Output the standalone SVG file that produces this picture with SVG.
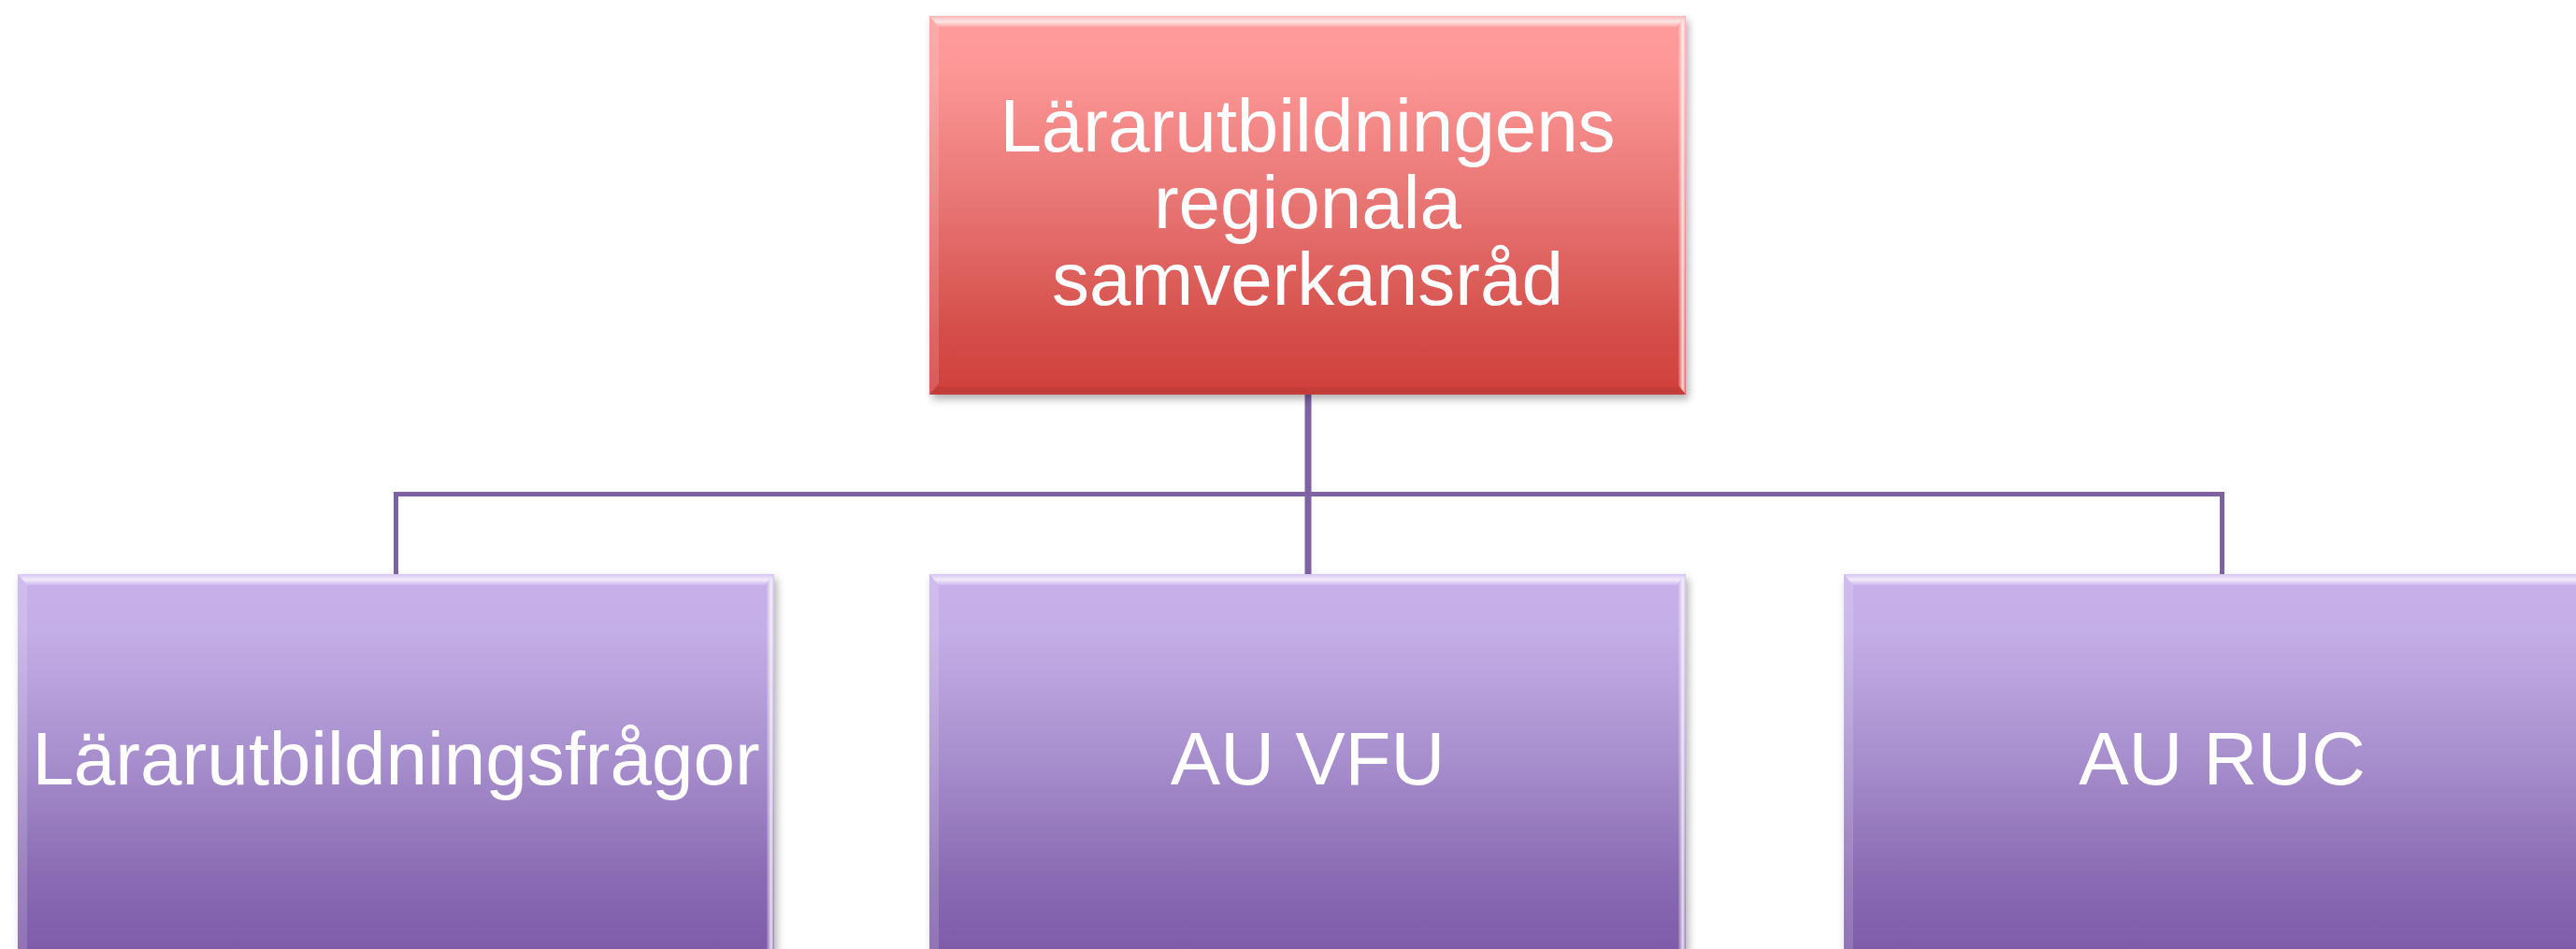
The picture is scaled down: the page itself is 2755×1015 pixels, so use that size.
<svg xmlns="http://www.w3.org/2000/svg" width="2755" height="1015" viewBox="0 0 2755 1015">
<defs>
<linearGradient id="gRed" x1="0" y1="0" x2="0" y2="1">
<stop offset="0" stop-color="#FF9C9C"/>
<stop offset="0.15" stop-color="#FC9796"/>
<stop offset="0.5" stop-color="#E77472"/>
<stop offset="0.85" stop-color="#D44C47"/>
<stop offset="1" stop-color="#D0403C"/>
</linearGradient>
<linearGradient id="gPur" x1="0" y1="0" x2="0" y2="1">
<stop offset="0" stop-color="#C8B1EB"/>
<stop offset="0.15" stop-color="#C4AEE7"/>
<stop offset="0.5" stop-color="#A68DCC"/>
<stop offset="0.8" stop-color="#8A6BB3"/>
<stop offset="1" stop-color="#7E5BA9"/>
</linearGradient>
<linearGradient id="gTop" x1="0" y1="0" x2="0" y2="1">
<stop offset="0" stop-color="#fff" stop-opacity="0.25"/>
<stop offset="0.5" stop-color="#fff" stop-opacity="0.75"/>
<stop offset="1" stop-color="#fff" stop-opacity="0.1"/>
</linearGradient>
<linearGradient id="gRight" x1="0" y1="0" x2="1" y2="0">
<stop offset="0" stop-color="#fff" stop-opacity="0.1"/>
<stop offset="0.6" stop-color="#fff" stop-opacity="0.8"/>
<stop offset="1" stop-color="#fff" stop-opacity="0.2"/>
</linearGradient>
<filter id="sh" x="-5%" y="-5%" width="110%" height="115%">
<feDropShadow dx="3" dy="5" stdDeviation="4" flood-color="#000" flood-opacity="0.3"/>
</filter>
</defs>
<style>
.lbl{font-family:"Liberation Sans",Arial,sans-serif;font-size:80px;fill:#fff;text-anchor:middle}
.con{stroke:#7F62A2;fill:none;stroke-linecap:butt}
.bt{fill:url(#gTop)}
.bl{fill:#fff;fill-opacity:0.15}
.br{fill:url(#gRight)}
.bb{fill:#000;fill-opacity:0.06}
</style>

<g id="connectors">
<line class="con" x1="1399" y1="422" x2="1399" y2="615" stroke-width="7"/>
<polyline class="con" points="423.5,615 423.5,528.5 2376.5,528.5 2376.5,615" stroke-width="5"/>
</g>

<g id="node-top">
<rect x="994" y="17" width="809" height="405" fill="url(#gRed)" filter="url(#sh)"/>
<polygon class="bt" points="994,17 1803,17 1793,29 1004,29"/>
<polygon class="bl" points="994,17 1004,29 1004,410 994,422"/>
<polygon class="br" points="1803,17 1803,422 1795,412 1795,27"/>
<polygon class="bb" points="994,422 1803,422 1795,414 1002,414"/>
<text class="lbl" x="1398.5" y="162">Lärarutbildningens</text>
<text class="lbl" x="1398.5" y="244">regionala</text>
<text class="lbl" x="1398.5" y="326">samverkansråd</text>
</g>

<g id="node-left">
<rect x="19" y="614" width="809" height="405" fill="url(#gPur)" filter="url(#sh)"/>
<polygon class="bt" points="19,614 828,614 818,626 29,626"/>
<polygon class="bl" points="19,614 29,626 29,1019 19,1019"/>
<polygon class="br" points="828,614 828,1019 820,1019 820,624"/>
<text class="lbl" x="423.5" y="839">Lärarutbildningsfrågor</text>
</g>

<g id="node-mid">
<rect x="994" y="614" width="809" height="405" fill="url(#gPur)" filter="url(#sh)"/>
<polygon class="bt" points="994,614 1803,614 1793,626 1004,626"/>
<polygon class="bl" points="994,614 1004,626 1004,1019 994,1019"/>
<polygon class="br" points="1803,614 1803,1019 1795,1019 1795,624"/>
<text class="lbl" x="1398.5" y="839">AU VFU</text>
</g>

<g id="node-right">
<rect x="1972" y="614" width="809" height="405" fill="url(#gPur)" filter="url(#sh)"/>
<polygon class="bt" points="1972,614 2781,614 2771,626 1982,626"/>
<polygon class="bl" points="1972,614 1982,626 1982,1019 1972,1019"/>
<polygon class="br" points="2781,614 2781,1019 2773,1019 2773,624"/>
<text class="lbl" x="2376.5" y="839">AU RUC</text>
</g>
</svg>
